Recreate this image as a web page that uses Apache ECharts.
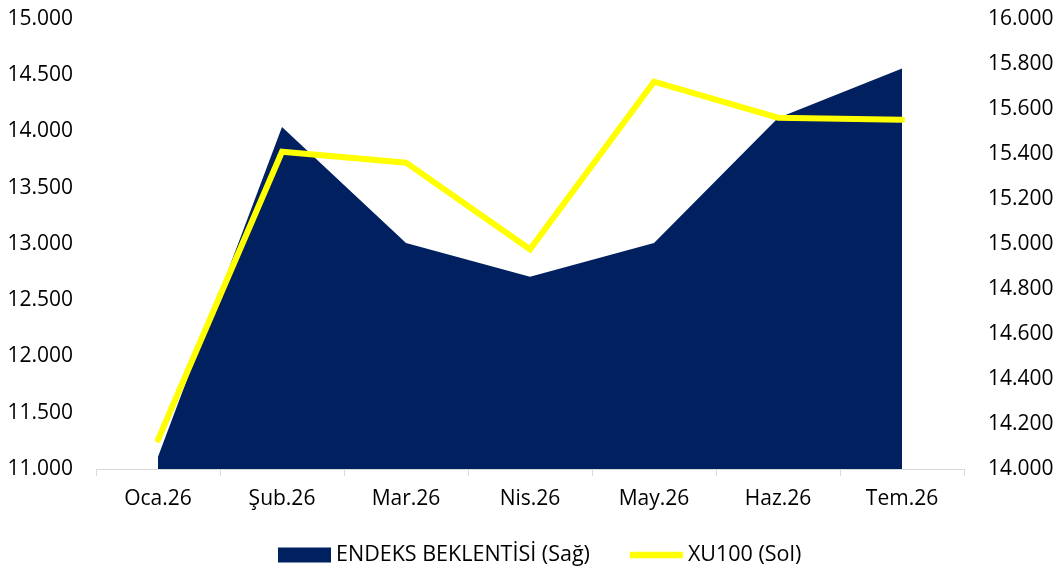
<!DOCTYPE html>
<html>
<head>
<meta charset="utf-8">
<script src="https://cdn.jsdelivr.net/npm/echarts@6/dist/echarts.min.js"></script>
<style>
html,body{margin:0;padding:0;background:#fff;}
#c{width:1059px;height:568px;}
</style>
</head>
<body>
<div id="c"></div>
<script>
const categories = ['Oca.26','Şub.26','Mar.26','Nis.26','May.26','Haz.26','Tem.26'];
const endeksBeklentisi = [14055, 15520, 15005, 14855, 15005, 15560, 15780];
const xu100 = [11260, 13820, 13723, 12953, 14443, 14123, 14105];
const leftAxis = {min: 11000, max: 15000, interval: 500};
const rightAxis = {min: 14000, max: 16000, interval: 200};
const seriesNames = ['ENDEKS BEKLENTİSİ (Sağ)', 'XU100 (Sol)'];

const fmt = v => {
  const s = String(Math.round(v));
  return s.replace(/\B(?=(\d{3})+(?!\d))/g, '.');
};
const FONT = 'Open Sans';
const chart = echarts.init(document.getElementById('c'));
chart.setOption({
  animation: false,
  textStyle: {fontFamily: FONT},
  grid: {left: 96, right: 95, top: 19, bottom: 99, containLabel: false},
  legend: {
    top: 539,
    left: 273,
    itemGap: 40,
    textStyle: {fontFamily: FONT, fontSize: 21.5, color: '#000'},
    data: [
      {name: seriesNames[0], icon: 'rect', itemStyle: {color: '#002060'}},
      {name: seriesNames[1], icon: 'path://M0,-3L50,-3L50,3L0,3Z', itemStyle: {color: '#FFFF00'}}
    ],
    itemWidth: 53,
    itemHeight: 15
  },
  xAxis: {
    type: 'category',
    data: categories,
    boundaryGap: true,
    axisLine: {show: true, lineStyle: {color: '#d9d9d9', width: 1}},
    axisTick: {show: true, length: 7, lineStyle: {color: '#d9d9d9'}},
    axisLabel: {fontFamily: FONT, fontSize: 21, color: '#000', margin: 20}
  },
  yAxis: [
    {
      type: 'value', position: 'left',
      min: leftAxis.min, max: leftAxis.max, interval: leftAxis.interval,
      axisLine: {show: false}, axisTick: {show: false}, splitLine: {show: false},
      axisLabel: {fontFamily: FONT, fontSize: 21, color: '#000', margin: 23, formatter: fmt}
    },
    {
      type: 'value', position: 'right',
      min: rightAxis.min, max: rightAxis.max, interval: rightAxis.interval,
      axisLine: {show: false}, axisTick: {show: false}, splitLine: {show: false},
      axisLabel: {fontFamily: FONT, fontSize: 21, color: '#000', margin: 24, formatter: fmt}
    }
  ],
  series: [
    {
      name: seriesNames[0], type: 'line', yAxisIndex: 1,
      data: endeksBeklentisi, symbol: 'none',
      lineStyle: {width: 0},
      itemStyle: {color: '#002060'},
      areaStyle: {color: '#002060', opacity: 1, origin: 'start'},
      z: 1
    },
    {
      name: seriesNames[1], type: 'line', yAxisIndex: 0,
      data: xu100, symbol: 'none',
      lineStyle: {width: 6, color: '#FFFF00', cap: 'round', join: 'miter'},
      itemStyle: {color: '#FFFF00'},
      z: 2
    }
  ]
});
</script>
</body>
</html>
